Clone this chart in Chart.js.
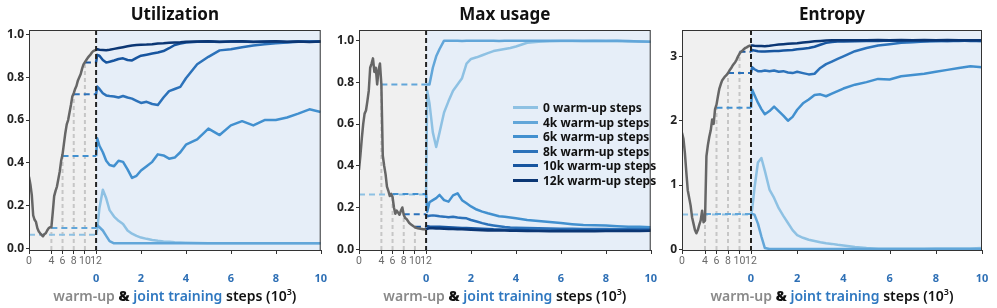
<!DOCTYPE html>
<html>
<head>
<meta charset="utf-8">
<script src="https://cdn.jsdelivr.net/npm/chart.js@4.4.1/dist/chart.umd.min.js"></script>
<style>
  body { margin: 0; background: #fff; width: 997px; height: 308px; position: relative; overflow: hidden; font-family: "Noto Sans", sans-serif; }
  canvas { position: absolute; top: 0; }
  .title { position: absolute; top: 3px; font-weight: 700; font-size: 17px; line-height: 22px; text-align: center; color: #111; }
  .xlabel { position: absolute; top: 286px; font-size: 14px; line-height: 20px; font-weight: 600; text-align: center; color: #111; white-space: nowrap; }
  .xlabel sup { font-size: 9px; line-height: 0; }
  #legend { position: absolute; left: 513px; top: 101px; font-weight: 700; font-size: 12px; color: #111; }
  #legend div { height: 14.5px; line-height: 14.5px; white-space: nowrap; }
  #legend span.sw { display: inline-block; width: 25px; height: 3px; vertical-align: middle; margin-right: 5px; position: relative; top: -1px; }
</style>
</head>
<body>
<canvas id="c1" width="330" height="308" style="left:0px"></canvas>
<canvas id="c2" width="330" height="308" style="left:330px"></canvas>
<canvas id="c3" width="337" height="308" style="left:660px"></canvas>
<div id="legend"></div>
<script>
// x positions (thousand steps)
const warmSteps = [0, 0.25, 0.5, 0.75, 1, 1.25, 1.5, 1.75, 2, 2.25, 2.5, 2.75, 3, 3.25, 3.5, 3.75,
  4, 4.25, 4.5, 4.75, 5, 5.25, 5.5, 5.75, 6, 6.25, 6.5, 6.75, 7, 7.25, 7.5, 7.75,
  8, 8.25, 8.5, 8.75, 9, 9.25, 9.5, 9.75, 10, 10.25, 10.5, 10.75, 11, 11.25, 11.5, 11.75, 12];
const jointSteps = [0, 0.05, 0.15, 0.3, 0.45, 0.6, 0.8, 1.0, 1.2, 1.4, 1.6, 1.8, 2.0, 2.25, 2.5, 2.75,
  3.0, 3.25, 3.5, 3.75, 4.0, 4.5, 5.0, 5.5, 6.0, 6.5, 7.0, 7.5, 8.0, 8.5, 9.0, 9.5, 10];

const runLabels = ['0 warm-up steps', '4k warm-up steps', '6k warm-up steps',
  '8k warm-up steps', '10k warm-up steps', '12k warm-up steps'];
const runWarmup = [0, 4, 6, 8, 10, 12];

const warmTicks = [0, 4, 6, 8, 10, 12];
const jointTicks = [0, 2, 4, 6, 8, 10];
const unitTicks = [0, 0.2, 0.4, 0.6, 0.8, 1.0];
const entTicks = [0, 1, 2, 3];
const titles = ['Utilization', 'Max usage', 'Entropy'];

// Utilization
const utilWarm = [0.336, 0.30, 0.25, 0.155, 0.135, 0.125, 0.095, 0.08, 0.072, 0.065, 0.058, 0.068, 0.072, 0.085, 0.095, 0.1,
  0.10, 0.17, 0.245, 0.27, 0.29, 0.325, 0.36, 0.41, 0.44, 0.49, 0.54, 0.58, 0.60, 0.635, 0.67, 0.71,
  0.725, 0.745, 0.76, 0.785, 0.80, 0.815, 0.84, 0.86, 0.87, 0.88, 0.89, 0.898, 0.905, 0.915, 0.922, 0.925, 0.927];
const utilRun0 = [0.065, 0.09, 0.19, 0.275, 0.235, 0.18, 0.15, 0.13, 0.115, 0.085, 0.07, 0.06, 0.052, 0.046, 0.041, 0.037,
  0.034, 0.032, 0.03, 0.029, 0.028, 0.027, 0.026, 0.026, 0.026, 0.026, 0.026, 0.026, 0.026, 0.026, 0.026, 0.026, 0.026];
const utilRun4 = [0.097, 0.11, 0.1, 0.085, 0.06, 0.035, 0.025, 0.025, 0.025, 0.025, 0.025, 0.025, 0.025, 0.025, 0.025, 0.025,
  0.025, 0.025, 0.025, 0.025, 0.025, 0.025, 0.025, 0.025, 0.025, 0.025, 0.025, 0.025, 0.025, 0.025, 0.025, 0.025, 0.025];
const utilRun6 = [0.432, 0.515, 0.48, 0.45, 0.41, 0.39, 0.385, 0.41, 0.405, 0.37, 0.33, 0.34, 0.365, 0.385, 0.405, 0.44,
  0.435, 0.42, 0.425, 0.45, 0.485, 0.51, 0.56, 0.53, 0.575, 0.595, 0.575, 0.6, 0.6, 0.612, 0.63, 0.65, 0.638];
const utilRun8 = [0.72, 0.756, 0.745, 0.725, 0.715, 0.712, 0.71, 0.705, 0.712, 0.705, 0.70, 0.69, 0.68, 0.685, 0.675, 0.67,
  0.705, 0.735, 0.745, 0.755, 0.795, 0.86, 0.895, 0.925, 0.93, 0.94, 0.948, 0.953, 0.958, 0.962, 0.965, 0.966, 0.966];
const utilRun10 = [0.869, 0.904, 0.9, 0.88, 0.868, 0.872, 0.878, 0.885, 0.888, 0.88, 0.878, 0.89, 0.9, 0.905, 0.91, 0.915,
  0.922, 0.935, 0.95, 0.957, 0.962, 0.965, 0.966, 0.964, 0.966, 0.966, 0.964, 0.965, 0.966, 0.964, 0.966, 0.965, 0.966];
const utilRun12 = [0.927, 0.93, 0.928, 0.927, 0.926, 0.928, 0.932, 0.936, 0.94, 0.944, 0.948, 0.95, 0.951, 0.952, 0.954, 0.957,
  0.958, 0.96, 0.962, 0.963, 0.965, 0.966, 0.967, 0.965, 0.966, 0.967, 0.965, 0.966, 0.967, 0.965, 0.966, 0.964, 0.966];

// Max usage
const maxWarm = [0.38, 0.45, 0.53, 0.60, 0.65, 0.665, 0.71, 0.76, 0.87, 0.89, 0.915, 0.85, 0.87, 0.79, 0.86, 0.89,
  0.79, 0.45, 0.40, 0.36, 0.30, 0.28, 0.255, 0.265, 0.25, 0.2, 0.17, 0.185, 0.175, 0.165, 0.185, 0.2,
  0.165, 0.15, 0.145, 0.135, 0.125, 0.12, 0.115, 0.11, 0.106, 0.102, 0.1, 0.099, 0.098, 0.097, 0.096, 0.095, 0.095];
const maxRun0 = [0.262, 0.76, 0.70, 0.56, 0.49, 0.56, 0.655, 0.71, 0.76, 0.79, 0.82, 0.89, 0.912, 0.92, 0.93, 0.94,
  0.95, 0.955, 0.96, 0.965, 0.972, 0.99, 0.995, 0.997, 0.998, 0.998, 0.997, 0.998, 0.997, 0.998, 0.996, 0.997, 0.995];
const maxRun4 = [0.79, 0.79, 0.79, 0.87, 0.925, 0.96, 1.0, 1.0, 1.0, 1.0, 0.998, 1.0, 1.0, 0.999, 1.0, 1.0,
  1.0, 0.998, 1.0, 1.0, 1.0, 1.0, 0.999, 1.0, 1.0, 1.0, 1.0, 0.999, 1.0, 1.0, 0.998, 0.996, 0.995];
const maxRun6 = [0.265, 0.18, 0.225, 0.235, 0.245, 0.26, 0.235, 0.228, 0.258, 0.268, 0.235, 0.22, 0.205, 0.19, 0.18, 0.172,
  0.165, 0.158, 0.155, 0.152, 0.148, 0.14, 0.135, 0.13, 0.125, 0.12, 0.116, 0.115, 0.113, 0.11, 0.108, 0.107, 0.105];
const maxRun8 = [0.168, 0.158, 0.16, 0.162, 0.16, 0.158, 0.156, 0.153, 0.155, 0.152, 0.15, 0.148, 0.14, 0.133, 0.125, 0.118,
  0.114, 0.11, 0.106, 0.104, 0.103, 0.101, 0.1, 0.099, 0.098, 0.098, 0.097, 0.097, 0.097, 0.096, 0.096, 0.096, 0.096];
const maxRun10 = [0.108, 0.11, 0.109, 0.108, 0.107, 0.107, 0.106, 0.105, 0.104, 0.103, 0.102, 0.101, 0.1, 0.099, 0.098, 0.097,
  0.095, 0.094, 0.093, 0.093, 0.092, 0.091, 0.09, 0.09, 0.09, 0.089, 0.09, 0.089, 0.089, 0.09, 0.089, 0.089, 0.089];
const maxRun12 = [0.095, 0.098, 0.1, 0.1, 0.099, 0.099, 0.098, 0.097, 0.097, 0.096, 0.095, 0.094, 0.093, 0.092, 0.091, 0.09,
  0.09, 0.089, 0.089, 0.088, 0.088, 0.087, 0.087, 0.086, 0.087, 0.086, 0.087, 0.086, 0.087, 0.087, 0.088, 0.087, 0.088];

// Entropy
const entWarm = [1.81, 1.72, 1.5, 1.2, 0.92, 0.8, 0.68, 0.5, 0.4, 0.3, 0.25, 0.3, 0.38, 0.45, 0.6, 0.42,
  0.45, 1.45, 1.62, 1.75, 1.85, 2.02, 1.95, 2.18, 2.25, 2.38, 2.5, 2.57, 2.63, 2.66, 2.69, 2.71,
  2.74, 2.78, 2.81, 2.85, 2.88, 2.91, 2.95, 3.0, 3.04, 3.07, 3.09, 3.11, 3.13, 3.14, 3.155, 3.165, 3.17];
const entRun0 = [0.54, 0.62, 0.95, 1.35, 1.42, 1.22, 0.93, 0.8, 0.64, 0.52, 0.41, 0.3, 0.22, 0.18, 0.15, 0.13,
  0.11, 0.095, 0.085, 0.07, 0.06, 0.035, 0.02, 0.01, 0.01, 0.01, 0.01, 0.01, 0.012, 0.012, 0.015, 0.015, 0.02];
const entRun4 = [0.55, 0.55, 0.54, 0.4, 0.2, 0.02, 0.005, 0.005, 0.005, 0.005, 0.005, 0.005, 0.005, 0.005, 0.005, 0.005,
  0.005, 0.005, 0.005, 0.005, 0.005, 0.005, 0.005, 0.005, 0.005, 0.005, 0.005, 0.005, 0.005, 0.005, 0.005, 0.005, 0.005];
const entRun6 = [2.2, 2.48, 2.4, 2.28, 2.18, 2.1, 2.15, 2.22, 2.15, 2.08, 2.0, 2.06, 2.17, 2.27, 2.33, 2.4,
  2.41, 2.38, 2.42, 2.46, 2.5, 2.56, 2.6, 2.65, 2.64, 2.69, 2.71, 2.73, 2.76, 2.79, 2.82, 2.845, 2.83];
const entRun8 = [2.74, 2.83, 2.8, 2.77, 2.77, 2.78, 2.77, 2.78, 2.76, 2.77, 2.75, 2.74, 2.76, 2.74, 2.72, 2.73,
  2.82, 2.88, 2.92, 2.96, 3.0, 3.08, 3.13, 3.17, 3.19, 3.21, 3.22, 3.23, 3.235, 3.24, 3.24, 3.245, 3.24];
const entRun10 = [3.07, 3.1, 3.09, 3.08, 3.075, 3.075, 3.08, 3.085, 3.085, 3.09, 3.095, 3.1, 3.11, 3.12, 3.13, 3.15,
  3.18, 3.21, 3.225, 3.23, 3.232, 3.235, 3.24, 3.24, 3.245, 3.24, 3.245, 3.24, 3.245, 3.24, 3.245, 3.24, 3.24];
const entRun12 = [3.17, 3.17, 3.165, 3.16, 3.16, 3.158, 3.165, 3.175, 3.185, 3.19, 3.195, 3.2, 3.205, 3.215, 3.225, 3.235,
  3.24, 3.245, 3.25, 3.25, 3.25, 3.252, 3.25, 3.255, 3.25, 3.255, 3.25, 3.255, 3.25, 3.255, 3.25, 3.252, 3.25];

const blues = ['#8ec1e3', '#62a6d9', '#4290cf', '#2c72ba', '#17559f', '#0b3674'];
const FRAC = 0.23; // share of the x axis used by the warm-up part

const panelDeco = {
  id: 'panelDeco',
  beforeDraw(chart) {
    const { ctx, chartArea: a, scales } = chart;
    const x12 = scales.xw.getPixelForValue(12);
    ctx.save();
    ctx.fillStyle = '#f0f0f0';
    ctx.fillRect(a.left, a.top, x12 - a.left, a.bottom - a.top);
    ctx.fillStyle = '#e6eef8';
    ctx.fillRect(x12, a.top, a.right - x12, a.bottom - a.top);
    ctx.restore();
  },
  afterDatasetsDraw(chart) {
    const { ctx, chartArea: a, scales } = chart;
    const x12 = scales.xw.getPixelForValue(12);
    ctx.save();
    ctx.strokeStyle = '#222';
    ctx.lineWidth = 2;
    ctx.setLineDash([5, 3]);
    ctx.beginPath();
    ctx.moveTo(x12, a.top);
    ctx.lineTo(x12, a.bottom);
    ctx.stroke();
    ctx.setLineDash([]);
    ctx.lineWidth = 1;
    ctx.strokeStyle = '#333';
    ctx.strokeRect(a.left + 0.5, a.top + 0.5, a.right - a.left - 1, a.bottom - a.top);
    // joint training tick marks on the main axis line
    jointTicks.forEach(v => {
      if (v === 0) return;
      const x = Math.round(scales.xj.getPixelForValue(v)) + 0.5;
      ctx.beginPath();
      ctx.moveTo(x, a.bottom);
      ctx.lineTo(x, a.bottom + 4);
      ctx.stroke();
    });
    ctx.restore();
  }
};

function makePanel(id, warm, runs, yMin, yMax, yTicks, digits, yWidth, padRight) {
  const datasets = [];
  const add = ds => {
    ds.order = -datasets.length;
    ds.pointRadius = 0;
    ds.fill = false;
    datasets.push(ds);
  };
  runs.forEach((r, i) => {
    const k = runWarmup[i];
    if (k > 0 && k < 12) {
      add({ xAxisID: 'xw', data: [{ x: k, y: yMin }, { x: k, y: r[0] }],
        borderColor: '#c6c6c6', borderWidth: 2, borderDash: [4, 3] });
    }
  });
  runs.forEach((r, i) => {
    const k = runWarmup[i];
    if (k < 12) {
      add({ xAxisID: 'xw', data: [{ x: k, y: r[0] }, { x: 12, y: r[0] }],
        borderColor: blues[i], borderWidth: 2, borderDash: [6, 4] });
    }
  });
  add({ xAxisID: 'xw', data: warmSteps.map((x, j) => ({ x: x, y: warm[j] })),
    borderColor: '#666666', borderWidth: 2.5 });
  runs.forEach((r, i) => {
    add({ xAxisID: 'xj', label: runLabels[i], data: jointSteps.map((x, j) => ({ x: x, y: r[j] })),
      borderColor: blues[i], borderWidth: 2.5 });
  });

  return new Chart(document.getElementById(id), {
    type: 'line',
    data: { datasets: datasets },
    plugins: [panelDeco],
    options: {
      responsive: false,
      animation: false,
      layout: { padding: { top: 30, bottom: 20, left: 0, right: padRight } },
      plugins: { legend: { display: false }, tooltip: { enabled: false } },
      elements: { line: { tension: 0, borderJoinStyle: 'round' } },
      scales: {
        xw: {
          type: 'linear', position: 'bottom', min: 0, max: 12 / FRAC,
          afterBuildTicks: s => { s.ticks = warmTicks.map(v => ({ value: v })); },
          afterFit: s => { s.height = 19; },
          grid: { display: true, drawOnChartArea: false, tickLength: 4, color: '#333' },
          border: { display: true, color: '#333' },
          ticks: { color: '#6a6a6a', font: { family: 'Roboto', size: 10.5 }, padding: 1,
            autoSkip: false, maxRotation: 0, callback: v => String(v) }
        },
        xj: {
          type: 'linear', position: 'bottom', min: -10 * FRAC / (1 - FRAC), max: 10,
          afterBuildTicks: s => { s.ticks = jointTicks.map(v => ({ value: v })); },
          afterFit: s => { s.height = 19; },
          grid: { display: false, drawTicks: false },
          border: { display: false },
          ticks: { color: '#2d6fb5', font: { family: 'Noto Sans', size: 11, weight: 'bold' }, padding: 3,
            autoSkip: false, maxRotation: 0, callback: v => String(v) }
        },
        y: {
          type: 'linear', min: yMin, max: yMax,
          afterBuildTicks: s => { s.ticks = yTicks.map(v => ({ value: v })); },
          afterFit: s => { s.width = yWidth; },
          grid: { display: true, drawOnChartArea: false, tickLength: 3, color: '#333' },
          border: { display: true, color: '#333' },
          ticks: { color: '#222', font: { family: 'Noto Sans', size: 12, weight: 'bold' }, padding: 2,
            callback: v => v.toFixed(digits) }
        }
      }
    }
  });
}

const c1 = makePanel('c1', utilWarm, [utilRun0, utilRun4, utilRun6, utilRun8, utilRun10, utilRun12],
  -0.006, 1.02, unitTicks, 1, 29, 2);
const c2 = makePanel('c2', maxWarm, [maxRun0, maxRun4, maxRun6, maxRun8, maxRun10, maxRun12],
  -0.004, 1.051, unitTicks, 1, 29, 2);
const c3 = makePanel('c3', entWarm, [entRun0, entRun4, entRun6, entRun8, entRun10, entRun12],
  -0.01, 3.41, entTicks, 0, 22, 15);

// titles and x axis labels, centred on each plot area
[[c1, 0], [c2, 330], [c3, 660]].forEach(([chart, left], i) => {
  const a = chart.chartArea;
  const t = document.createElement('div');
  t.className = 'title';
  t.style.left = (left + a.left) + 'px';
  t.style.width = (a.right - a.left) + 'px';
  t.textContent = titles[i];
  document.body.appendChild(t);
  const xl = document.createElement('div');
  xl.className = 'xlabel';
  xl.style.left = (left + a.left) + 'px';
  xl.style.width = (a.right - a.left) + 'px';
  xl.innerHTML = '<span style="color:#8a8a8a">warm-up</span> <b>&amp;</b> ' +
    '<span style="color:#2f78c0">joint training</span> steps (10<sup>3</sup>)';
  document.body.appendChild(xl);
});

// legend inside the middle panel
const legend = document.getElementById('legend');
runLabels.forEach((lab, i) => {
  const row = document.createElement('div');
  row.innerHTML = '<span class="sw" style="background:' + blues[i] + '"></span>' + lab;
  legend.appendChild(row);
});
</script>
</body>
</html>
